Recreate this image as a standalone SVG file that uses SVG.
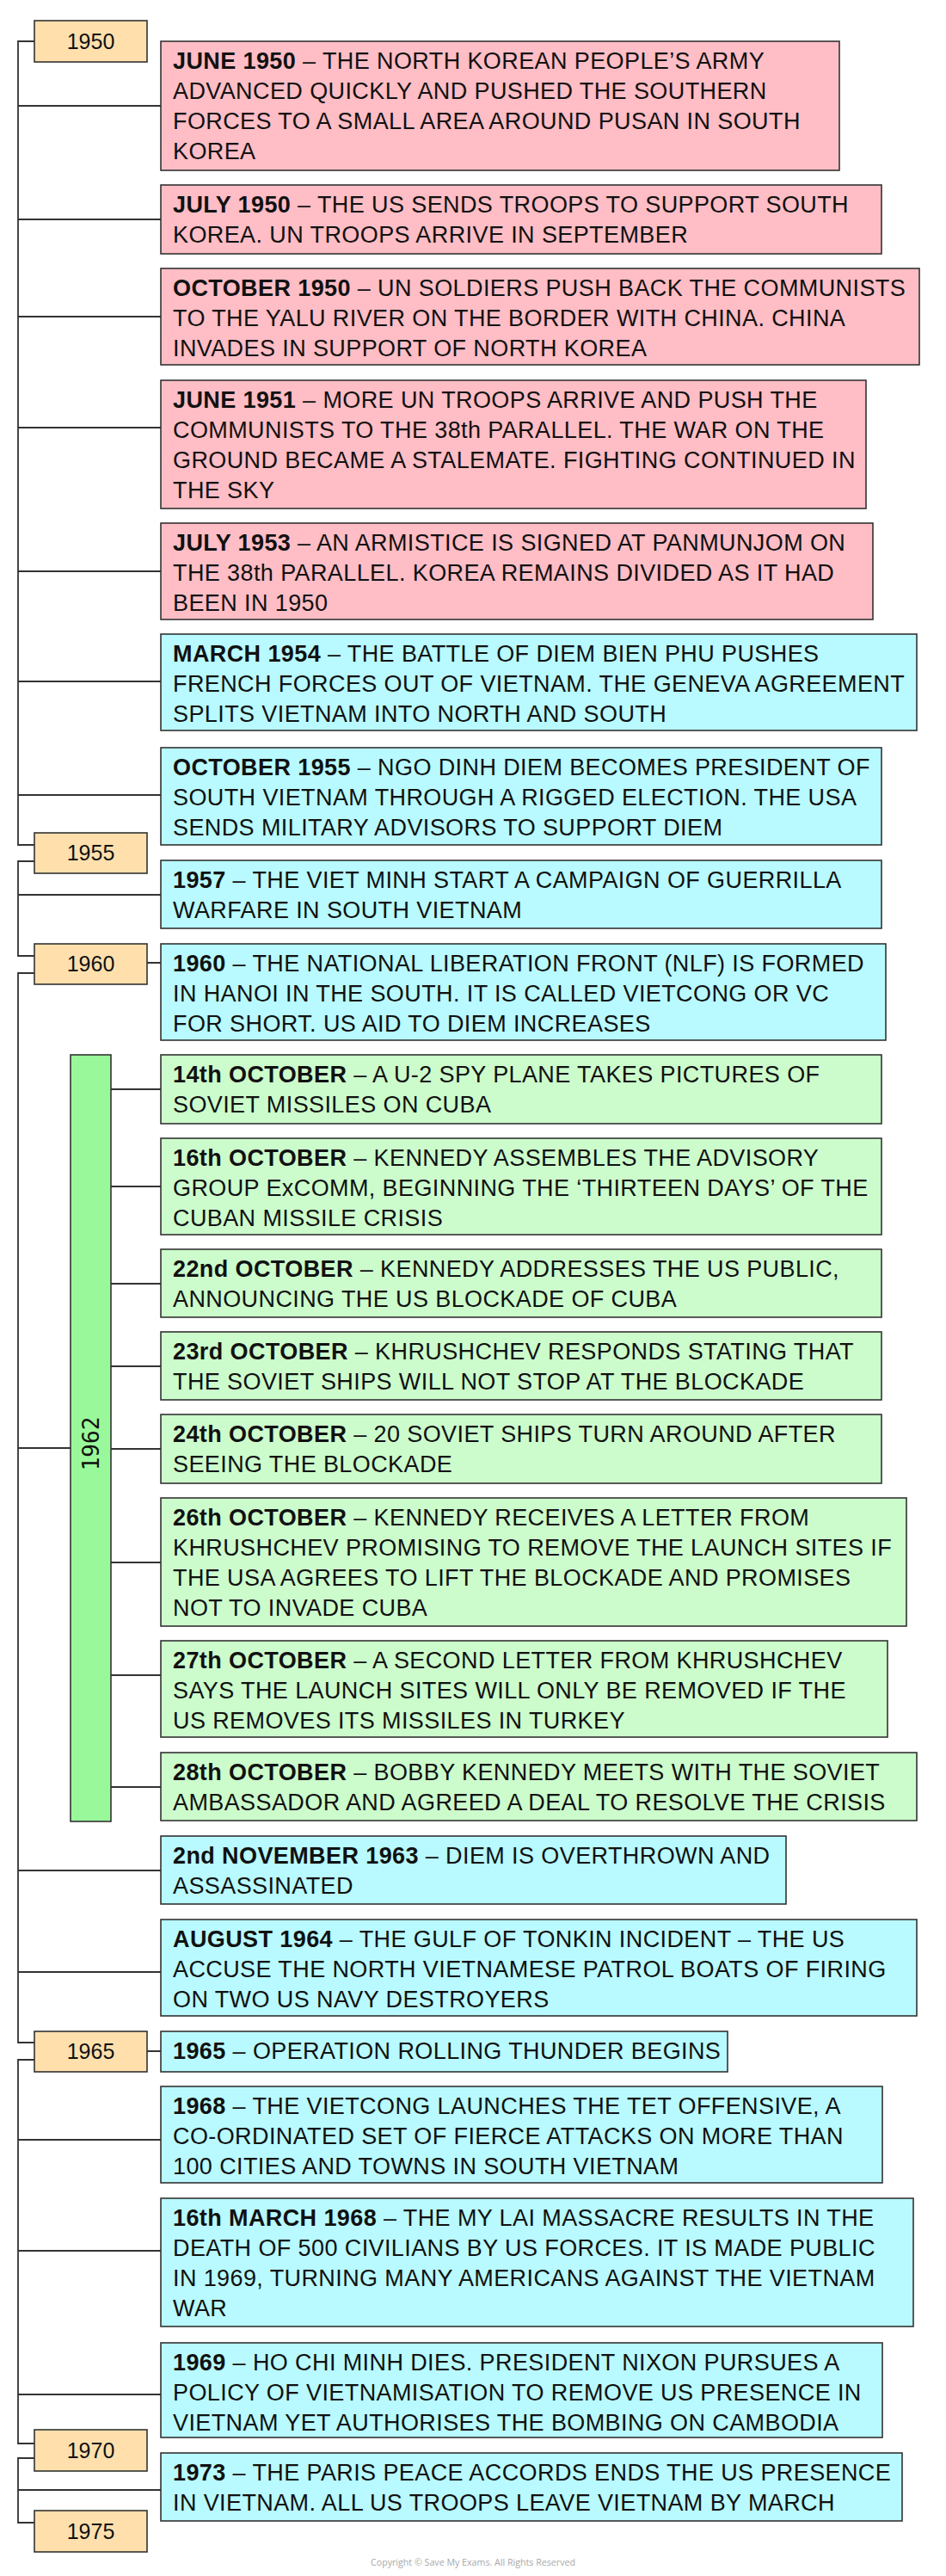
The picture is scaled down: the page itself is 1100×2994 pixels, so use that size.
<svg xmlns="http://www.w3.org/2000/svg" width="1100" height="2994" viewBox="0 0 1100 2994">
<style>
  .box { stroke: #333; stroke-width: 1.6; }
  .pink { fill: #FFBDC5; }
  .cyan { fill: #B8FAFF; }
  .green { fill: #CCFCCC; }
  .year { fill: #FFE0AC; stroke: #333; stroke-width: 1.6; }
  .bar { fill: #99F99A; stroke: #333; stroke-width: 1.6; }
  .t { font-family: "Liberation Sans", Arial, sans-serif; font-size: 27px; letter-spacing: 0.4px; fill: #111; }
  .b { font-weight: bold; }
  .yt { font-family: "Liberation Sans", Arial, sans-serif; font-size: 25px; fill: #111; text-anchor: middle; }
  .conn { stroke: #333; stroke-width: 1.8; fill: none; }
  .copy { font-family: "Open Sans", "Liberation Sans", sans-serif; font-size: 11px; fill: #a8a8a8; text-anchor: middle; }
</style>

<g id="connectors">
  <path class="conn" d="M40 48 H21 V982 H40"/>
  <path class="conn" d="M40 1001 H21 V1111 H40"/>
  <path class="conn" d="M40 1131 H21 V2374 H40"/>
  <path class="conn" d="M40 2394 H21 V2840 H40"/>
  <path class="conn" d="M40 2857 H21 V2932 H40"/>
  <path class="conn" d="M21 123 H187 M21 255 H187 M21 368 H187 M21 497 H187 M21 664 H187 M21 792 H187 M21 924 H187 M21 1040 H187 M21 2174 H187 M21 2292 H187 M21 2487 H187 M21 2616 H187 M21 2783 H187 M21 2894 H187"/>
  <path class="conn" d="M21 1683 H82"/>
  <path class="conn" d="M129 1266 H187 M129 1379 H187 M129 1492 H187 M129 1588 H187 M129 1684 H187 M129 1816 H187 M129 1947 H187 M129 2077 H187"/>
  <path class="conn" d="M171 1119 H187 M171 2384 H187"/>
</g>

<g id="year-1950"><rect class="year" x="40" y="24" width="131" height="48"/><text class="yt" x="105.5" y="57">1950</text></g>
<g id="year-1955"><rect class="year" x="40" y="968" width="131" height="47"/><text class="yt" x="105.5" y="1000">1955</text></g>
<g id="year-1960"><rect class="year" x="40" y="1097" width="131" height="47"/><text class="yt" x="105.5" y="1129">1960</text></g>
<g id="year-1965"><rect class="year" x="40" y="2361" width="131" height="47"/><text class="yt" x="105.5" y="2393">1965</text></g>
<g id="year-1970"><rect class="year" x="40" y="2824" width="131" height="48"/><text class="yt" x="105.5" y="2857">1970</text></g>
<g id="year-1975"><rect class="year" x="40" y="2918" width="131" height="48"/><text class="yt" x="105.5" y="2951">1975</text></g>

<g id="bar-1962">
  <rect class="bar" x="82" y="1226" width="47" height="891"/>
  <text x="115" y="1678" transform="rotate(-90 115 1678)" style="font-family:'DejaVu Sans Mono','Liberation Mono',monospace;font-size:26px;fill:#111;text-anchor:middle">1962</text>
</g>

<g id="ev-june1950"><rect class="box pink" x="187" y="48" width="789" height="150"/>
<text class="t" x="201" y="80"><tspan class="b">JUNE 1950</tspan> – THE NORTH KOREAN PEOPLE’S ARMY</text>
<text class="t" x="201" y="115">ADVANCED QUICKLY AND PUSHED THE SOUTHERN</text>
<text class="t" x="201" y="150">FORCES TO A SMALL AREA AROUND PUSAN IN SOUTH</text>
<text class="t" x="201" y="185">KOREA</text></g>

<g id="ev-july1950"><rect class="box pink" x="187" y="215" width="838" height="80"/>
<text class="t" x="201" y="247"><tspan class="b">JULY 1950</tspan> – THE US SENDS TROOPS TO SUPPORT SOUTH</text>
<text class="t" x="201" y="282">KOREA. UN TROOPS ARRIVE IN SEPTEMBER</text></g>

<g id="ev-oct1950"><rect class="box pink" x="187" y="312" width="882" height="112"/>
<text class="t" x="201" y="344"><tspan class="b">OCTOBER 1950</tspan> – UN SOLDIERS PUSH BACK THE COMMUNISTS</text>
<text class="t" x="201" y="379">TO THE YALU RIVER ON THE BORDER WITH CHINA. CHINA</text>
<text class="t" x="201" y="414">INVADES IN SUPPORT OF NORTH KOREA</text></g>

<g id="ev-june1951"><rect class="box pink" x="187" y="442" width="820" height="149"/>
<text class="t" x="201" y="474"><tspan class="b">JUNE 1951</tspan> – MORE UN TROOPS ARRIVE AND PUSH THE</text>
<text class="t" x="201" y="509">COMMUNISTS TO THE 38th PARALLEL. THE WAR ON THE</text>
<text class="t" x="201" y="544">GROUND BECAME A STALEMATE. FIGHTING CONTINUED IN</text>
<text class="t" x="201" y="579">THE SKY</text></g>

<g id="ev-july1953"><rect class="box pink" x="187" y="608" width="828" height="112"/>
<text class="t" x="201" y="640"><tspan class="b">JULY 1953</tspan> – AN ARMISTICE IS SIGNED AT PANMUNJOM ON</text>
<text class="t" x="201" y="675">THE 38th PARALLEL. KOREA REMAINS DIVIDED AS IT HAD</text>
<text class="t" x="201" y="710">BEEN IN 1950</text></g>

<g id="ev-march1954"><rect class="box cyan" x="187" y="737" width="879" height="112"/>
<text class="t" x="201" y="769"><tspan class="b">MARCH 1954</tspan> – THE BATTLE OF DIEM BIEN PHU PUSHES</text>
<text class="t" x="201" y="804">FRENCH FORCES OUT OF VIETNAM. THE GENEVA AGREEMENT</text>
<text class="t" x="201" y="839">SPLITS VIETNAM INTO NORTH AND SOUTH</text></g>

<g id="ev-oct1955"><rect class="box cyan" x="187" y="869" width="838" height="113"/>
<text class="t" x="201" y="901"><tspan class="b">OCTOBER 1955</tspan> – NGO DINH DIEM BECOMES PRESIDENT OF</text>
<text class="t" x="201" y="936">SOUTH VIETNAM THROUGH A RIGGED ELECTION. THE USA</text>
<text class="t" x="201" y="971">SENDS MILITARY ADVISORS TO SUPPORT DIEM</text></g>

<g id="ev-1957"><rect class="box cyan" x="187" y="1000" width="838" height="79"/>
<text class="t" x="201" y="1032"><tspan class="b">1957</tspan> – THE VIET MINH START A CAMPAIGN OF GUERRILLA</text>
<text class="t" x="201" y="1067">WARFARE IN SOUTH VIETNAM</text></g>

<g id="ev-1960"><rect class="box cyan" x="187" y="1097" width="843" height="112"/>
<text class="t" x="201" y="1129"><tspan class="b">1960</tspan> – THE NATIONAL LIBERATION FRONT (NLF) IS FORMED</text>
<text class="t" x="201" y="1164">IN HANOI IN THE SOUTH. IT IS CALLED VIETCONG OR VC</text>
<text class="t" x="201" y="1199">FOR SHORT. US AID TO DIEM INCREASES</text></g>

<g id="ev-14oct"><rect class="box green" x="187" y="1226" width="838" height="80"/>
<text class="t" x="201" y="1258"><tspan class="b">14th OCTOBER</tspan> – A U-2 SPY PLANE TAKES PICTURES OF</text>
<text class="t" x="201" y="1293">SOVIET MISSILES ON CUBA</text></g>

<g id="ev-16oct"><rect class="box green" x="187" y="1323" width="838" height="112"/>
<text class="t" x="201" y="1355"><tspan class="b">16th OCTOBER</tspan> – KENNEDY ASSEMBLES THE ADVISORY</text>
<text class="t" x="201" y="1390">GROUP ExCOMM, BEGINNING THE ‘THIRTEEN DAYS’ OF THE</text>
<text class="t" x="201" y="1425">CUBAN MISSILE CRISIS</text></g>

<g id="ev-22oct"><rect class="box green" x="187" y="1452" width="838" height="79"/>
<text class="t" x="201" y="1484"><tspan class="b">22nd OCTOBER</tspan> – KENNEDY ADDRESSES THE US PUBLIC,</text>
<text class="t" x="201" y="1519">ANNOUNCING THE US BLOCKADE OF CUBA</text></g>

<g id="ev-23oct"><rect class="box green" x="187" y="1548" width="838" height="79"/>
<text class="t" x="201" y="1580"><tspan class="b">23rd OCTOBER</tspan> – KHRUSHCHEV RESPONDS STATING THAT</text>
<text class="t" x="201" y="1615">THE SOVIET SHIPS WILL NOT STOP AT THE BLOCKADE</text></g>

<g id="ev-24oct"><rect class="box green" x="187" y="1644" width="838" height="80"/>
<text class="t" x="201" y="1676"><tspan class="b">24th OCTOBER</tspan> – 20 SOVIET SHIPS TURN AROUND AFTER</text>
<text class="t" x="201" y="1711">SEEING THE BLOCKADE</text></g>

<g id="ev-26oct"><rect class="box green" x="187" y="1741" width="867" height="149"/>
<text class="t" x="201" y="1773"><tspan class="b">26th OCTOBER</tspan> – KENNEDY RECEIVES A LETTER FROM</text>
<text class="t" x="201" y="1808">KHRUSHCHEV PROMISING TO REMOVE THE LAUNCH SITES IF</text>
<text class="t" x="201" y="1843">THE USA AGREES TO LIFT THE BLOCKADE AND PROMISES</text>
<text class="t" x="201" y="1878">NOT TO INVADE CUBA</text></g>

<g id="ev-27oct"><rect class="box green" x="187" y="1907" width="845" height="112"/>
<text class="t" x="201" y="1939"><tspan class="b">27th OCTOBER</tspan> – A SECOND LETTER FROM KHRUSHCHEV</text>
<text class="t" x="201" y="1974">SAYS THE LAUNCH SITES WILL ONLY BE REMOVED IF THE</text>
<text class="t" x="201" y="2009">US REMOVES ITS MISSILES IN TURKEY</text></g>

<g id="ev-28oct"><rect class="box green" x="187" y="2037" width="879" height="79"/>
<text class="t" x="201" y="2069"><tspan class="b">28th OCTOBER</tspan> – BOBBY KENNEDY MEETS WITH THE SOVIET</text>
<text class="t" x="201" y="2104">AMBASSADOR AND AGREED A DEAL TO RESOLVE THE CRISIS</text></g>

<g id="ev-nov1963"><rect class="box cyan" x="187" y="2134" width="727" height="79"/>
<text class="t" x="201" y="2166"><tspan class="b">2nd NOVEMBER 1963</tspan> – DIEM IS OVERTHROWN AND</text>
<text class="t" x="201" y="2201">ASSASSINATED</text></g>

<g id="ev-aug1964"><rect class="box cyan" x="187" y="2231" width="879" height="112"/>
<text class="t" x="201" y="2263"><tspan class="b">AUGUST 1964</tspan> – THE GULF OF TONKIN INCIDENT – THE US</text>
<text class="t" x="201" y="2298">ACCUSE THE NORTH VIETNAMESE PATROL BOATS OF FIRING</text>
<text class="t" x="201" y="2333">ON TWO US NAVY DESTROYERS</text></g>

<g id="ev-1965"><rect class="box cyan" x="187" y="2361" width="659" height="47"/>
<text class="t" x="201" y="2393"><tspan class="b">1965</tspan> – OPERATION ROLLING THUNDER BEGINS</text></g>

<g id="ev-1968"><rect class="box cyan" x="187" y="2425" width="839" height="112"/>
<text class="t" x="201" y="2457"><tspan class="b">1968</tspan> – THE VIETCONG LAUNCHES THE TET OFFENSIVE, A</text>
<text class="t" x="201" y="2492">CO-ORDINATED SET OF FIERCE ATTACKS ON MORE THAN</text>
<text class="t" x="201" y="2527">100 CITIES AND TOWNS IN SOUTH VIETNAM</text></g>

<g id="ev-mar1968"><rect class="box cyan" x="187" y="2555" width="875" height="149"/>
<text class="t" x="201" y="2587"><tspan class="b">16th MARCH 1968</tspan> – THE MY LAI MASSACRE RESULTS IN THE</text>
<text class="t" x="201" y="2622">DEATH OF 500 CIVILIANS BY US FORCES. IT IS MADE PUBLIC</text>
<text class="t" x="201" y="2657">IN 1969, TURNING MANY AMERICANS AGAINST THE VIETNAM</text>
<text class="t" x="201" y="2692">WAR</text></g>

<g id="ev-1969"><rect class="box cyan" x="187" y="2723" width="839" height="110"/>
<text class="t" x="201" y="2755"><tspan class="b">1969</tspan> – HO CHI MINH DIES. PRESIDENT NIXON PURSUES A</text>
<text class="t" x="201" y="2790">POLICY OF VIETNAMISATION TO REMOVE US PRESENCE IN</text>
<text class="t" x="201" y="2825">VIETNAM YET AUTHORISES THE BOMBING ON CAMBODIA</text></g>

<g id="ev-1973"><rect class="box cyan" x="187" y="2851" width="862" height="79"/>
<text class="t" x="201" y="2883"><tspan class="b">1973</tspan> – THE PARIS PEACE ACCORDS ENDS THE US PRESENCE</text>
<text class="t" x="201" y="2918">IN VIETNAM. ALL US TROOPS LEAVE VIETNAM BY MARCH</text></g>

<text class="copy" x="550" y="2982" textLength="238" lengthAdjust="spacingAndGlyphs">Copyright © Save My Exams. All Rights Reserved</text>
</svg>
